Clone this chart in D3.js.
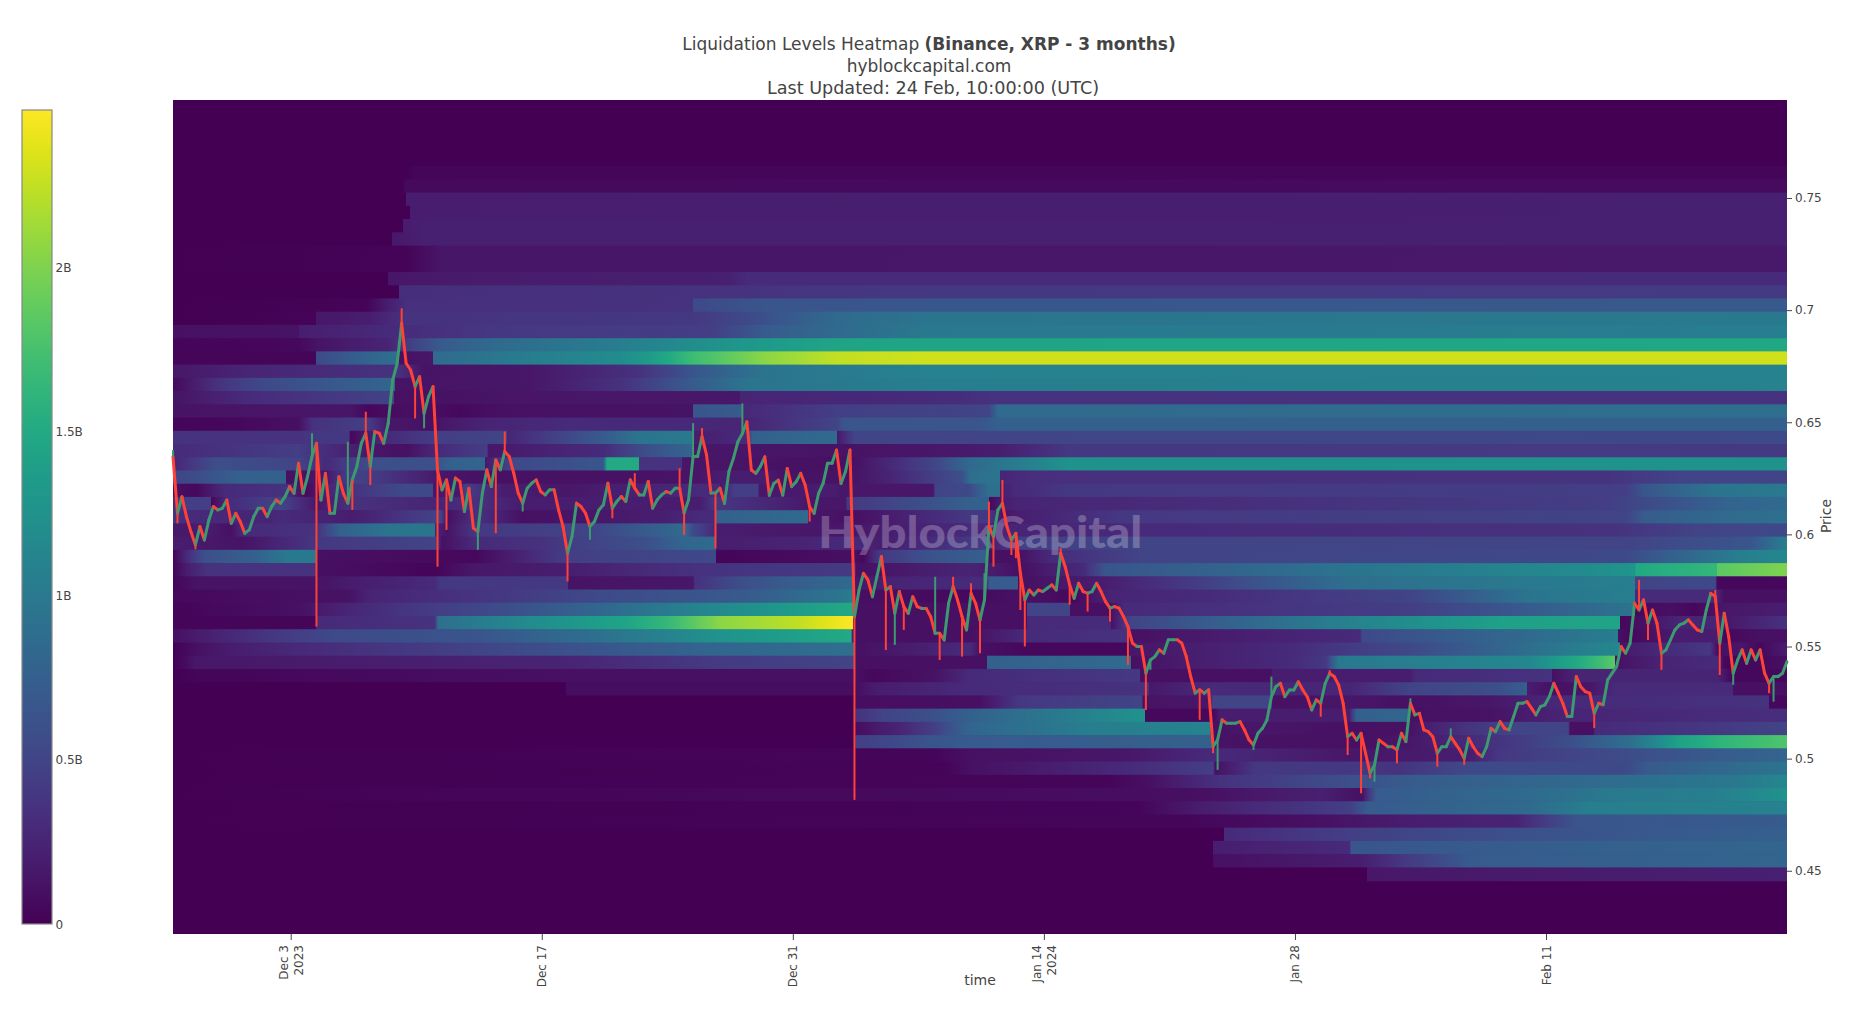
<!DOCTYPE html>
<html><head><meta charset="utf-8">
<script src="https://cdn.jsdelivr.net/npm/d3@7"></script>
<style>
html,body{margin:0;padding:0;background:#fff;overflow:hidden}
text{font-family:"DejaVu Sans",Verdana,sans-serif;fill:#444}
</style></head><body>
<svg id="chart" width="1866" height="1014"></svg>
<script>
// ---------- data ----------
const chartTitle = "Liquidation Levels Heatmap ";
const chartTitleBold = "(Binance, XRP - 3 months)";
const chartSubtitle = "hyblockcapital.com";
const chartUpdated = "Last Updated: 24 Feb, 10:00:00 (UTC)";
const watermark = "HyblockCapital";
const startTime = Date.UTC(2023,10,26,10,30);
const spanDays = 90;
const priceRange = [0.4218,0.7937];
const priceStep = 0.0059;
const priceTicks = [0.45,0.5,0.55,0.6,0.65,0.7,0.75];
const timeTicks = [Date.UTC(2023,11,3),Date.UTC(2023,11,17),Date.UTC(2023,11,31),Date.UTC(2024,0,14),Date.UTC(2024,0,28),Date.UTC(2024,1,11)];
const timeTickLabels = [["Dec 3","2023"],["Dec 17"],["Dec 31"],["Jan 14","2024"],["Jan 28"],["Feb 11"]];
const barMax = 2.48;
const barTicks = [0,0.5,1,1.5,2];
const barTickLabels = ["0","0.5B","1B","1.5B","2B"];

// liquidation level (billions) per price row, top row first: flat [day,value,day,value,...]
const levelRows = [
[0,0,90,0],[0,0,90,0],[0,0,90,0],[0,0,90,0],[0,0,90,0],
[0,0,13,0,13.5,.03,90,.03],
[0,0,12.8,0,13,.06,90,.07],
[0,0,13,0,13,.2,90,.22],
[0,0,13.2,0,13.2,.2,90,.22],
[0,0,12.8,0,12.8,.18,14,.22,90,.22],
[0,0,12.2,0,12.2,.15,14,.22,90,.22],
[0,0,13,.02,15,.14,90,.16],
[0,0,13,.02,15,.14,90,.16],
[0,0,12,0,12,.14,15,.17,31,.22,32,.3,90,.3],
[0,0,12.6,0,12.6,.32,30,.35,42,.4,90,.42],
[0,0,10.8,.02,12,.2,13,.33,29,.35,29,.55,33,.65,90,.68],
[0,0,8,.02,8,.15,11,.2,13,.35,29,.4,32,.55,37,.85,42,.95,90,1],
[0,.1,7,.12,7,.2,12,.3,18,.4,30,.45,33,.7,37,.85,42,1,90,1.05],
[0,.03,7,.05,8,.12,12,.25,13.5,.5,15,.7,18,.85,25,1.05,30,1.25,37,1.45,90,1.48],
[0,.03,8,.03,8,.55,11,.8,12.5,.9,12.6,.1,14.5,.15,14.5,.85,20,1.05,25,1.2,27,1.4,29,1.7,33,2.05,37,2.25,42,2.3,90,2.3],
[0,.15,4,.25,12.5,.35,14,.12,20,.15,26,.35,29,.65,33,.95,42,1.1,90,1.1],
[0,.05,2.5,.35,5,.55,11,.75,12.4,.8,12.4,.12,20,.15,25,.35,29,.7,32,.95,42,1.05,90,1.1],
[0,.12,4,.3,11,.45,12.3,.5,12.3,.1,23,.15,31.6,.15,31.6,.25,42,.3,46,.35,90,.35],
[0,.12,9.9,.14,10.8,.05,12.5,.08,14,.1,16,.05,18.2,.1,29,.12,29,.65,31.8,.7,31.8,.28,37,.45,45.5,.5,46,.85,90,.9],
[0,.03,3.7,.05,7,.1,7.8,.35,10.8,.45,12,.15,14.7,.1,15,.15,17.5,.25,22,.3,29,.28,32,.25,37,.5,37.4,.65,45,.65,46,.75,90,.75],
[0,.35,7,.35,8,.4,9.8,.4,9.9,.05,10.6,.15,12,.3,14.9,.45,18.6,.5,18.6,.25,24,.7,26,.95,29,1,29,.2,32,.3,32.3,.75,37,.85,37,.15,38,.5,90,.55],
[0,.3,7,.45,8,.35,11,.15,13,.1,14.8,.3,17.5,.45,17.6,.15,24,.3,26.5,.6,29,.8,29,.15,37.9,.12,42.4,.15,46,.2,50,.4,90,.42],
[0,.25,2.4,.6,7,.5,8.5,.3,11.3,.6,14.5,.6,15.4,.75,17.4,.8,17.4,.15,19,.55,24,.65,24.2,1.5,26,1.5,26,.35,28.4,.35,28.4,.15,32.5,.12,37.9,.1,42.4,.5,44.5,.85,48,1.1,50,1.25,90,1.25],
[0,.5,.9,.55,3.7,.75,6.3,.75,6.3,.1,8.5,.15,10,.5,11.5,.4,14.9,.15,17.5,.1,29,.13,30.7,.2,33,.2,34,.12,37.9,.12,40,.25,44,.6,44.5,.9,46.1,.95,46.1,.25,48,.33,80,.36,84,.5,90,.5],
[0,.1,1.3,.05,2.9,.3,6.3,.35,7.4,.05,8.5,.25,12.8,.55,14.5,.55,14.5,.15,16,.15,16.3,.45,18.4,.2,22,.15,27,.25,29.4,.3,30.5,.3,30.5,.15,31.3,.45,32.6,.45,32.7,.15,37,.2,37.2,.15,42.4,.15,42.5,.5,44.4,.55,45.5,.9,46.1,.9,46.1,.2,47,.3,50,.4,81,.45,82,.65,86,.95,90,1],
[0,.3,.8,.45,2.1,.45,2.1,.03,3,.3,6.1,.5,8,.15,10,.35,14.9,.25,16.8,.35,19.2,.2,29.4,.2,30.2,.4,35.5,.15,37.5,.15,37.6,.4,42,.6,44.45,.75,45.5,.75,45.5,.05,46.3,.2,47,.25,80,.45,82,.55,87,.8,90,.85],
[0,.35,1,.3,5.2,.25,6.1,.3,10,.2,14.9,.5,15.3,.1,16.9,.35,19.5,.1,27,.2,29.4,.3,30.3,.3,30.3,.75,35.4,.85,35.4,.15,38,.1,44.45,.4,45.5,.4,46.3,.12,47,.2,53,.4,81,.5,82,.7,86.5,.85,90,.9],
[0,.15,1.9,.2,3.2,.1,3.9,.3,8,.35,9.3,.75,12,.95,14.6,.95,14.6,.25,15.3,.12,16.9,.4,23.3,.5,28.5,.85,29,.55,30.2,.3,30.3,.2,35.5,.15,38,.15,44.45,.3,47,.25,54,.3,80,.35,85,.5,90,.55],
[0,.2,3.9,.12,7.5,.35,8,.4,14.6,.5,15,.1,16.8,.3,20.5,.35,23.3,.5,26.4,.6,28.5,.8,30.2,.85,30.3,.85,30.3,.2,35.4,.25,38,.3,39.5,.2,44.45,.4,45.5,.45,45.6,.2,47.3,.45,54,.5,81,.5,88,.65,90,1.05],
[0,.03,1.7,.6,4.6,.75,6.5,1,8,1,8,.1,16.9,.05,22.1,.45,30.1,.55,30.3,.55,30.3,.03,38,.1,38.5,.05,39.4,.4,42.6,.65,44.45,.7,45.4,.75,45.4,.1,47.2,.1,49,.3,54,.5,81,.55,87.3,1.05,90,1.15],
[0,.03,.8,.2,1.9,.35,8,.35,8,.1,14.6,.03,16.7,.15,21.9,.2,29.4,.35,38,.42,38.1,.1,44.45,.25,47.2,.1,50.8,.3,52,.65,57,.75,65.6,.95,79,1.2,81.5,1.3,81.6,1.5,86.1,1.65,86.1,1.85,90,2],
[0,.03,1.2,.12,5.6,.12,8,.12,10.4,.2,14.6,.3,14.9,.4,22,.4,22,.12,29,.15,29.1,.35,31.8,.6,37.9,.85,38,.15,40.5,.25,44.45,.3,45.4,.3,45.5,.7,47.1,.7,47.1,.1,49.3,.15,52,.2,57.3,.45,65.6,.9,75.6,1,81.5,1.05,81.5,.5,86,.55,86.1,.05,90,.05],
[0,.05,9.9,.12,11,.25,18.6,.4,23.5,.55,32,.7,37,.95,38,1.05,38,.1,44.45,.05,47.6,.12,50.2,.05,52.3,.25,57.3,.3,69,.5,75.6,.95,81.5,1.05,81.5,.3,86,.3,86.5,.1,90,.1],
[0,.03,7,.1,9.6,.25,17.6,.55,23.5,.8,30,1.15,38,1.5,38,.1,47.6,.1,47.6,.5,50,.5,50,.1,52.3,.1,53,.3,69,.45,75.6,.7,81.5,.95,81.5,.05,83.5,.1,84.8,.05,86.5,.15,90,.2],
[0,.03,8,.03,8,.3,14.6,.35,14.8,.9,20,1.2,25.3,1.45,27.5,1.65,29.4,1.9,30.5,2.05,35,2.25,37.9,2.48,37.9,.1,47.6,.1,47.6,.3,52.3,.3,52.3,.1,53.4,.5,65.6,1.1,74,1.4,80.7,1.45,80.7,.05,82,.1,84,.25,86.1,.25,86.5,.15,90,.35],
[0,.1,2.6,.25,8.9,.55,17,.65,23.5,.9,30.2,1.25,37.8,1.5,37.9,.1,44.45,.1,47.6,.3,53.2,.35,53.4,.1,56,.15,66.2,.3,66.3,.55,75.6,.85,80.6,1.05,80.6,.1,81.3,.05,84,.2,86.1,.2,86.5,.05,88.5,.1,90,.1],
[0,0,1.3,.1,3.3,.2,10.3,.35,17,.5,23.5,.65,30,.8,38,.9,38,.1,44.45,.3,45,.1,47.6,.05,53.2,.05,53.4,.15,56.7,.2,62.3,.3,69,.55,72.3,.7,79.3,1.1,80.7,1.15,80.7,.1,81.3,.2,83.2,.3,85.7,.4,86.1,.1,87.4,.15,88.5,.05,90,.2],
[0,0,1.3,.15,21.9,.25,30,.42,38,.5,38,.1,45.4,.1,45.4,.75,53.4,.85,53.4,.1,56.7,.2,62.3,.3,64.3,.4,65,1,75.6,1.15,78.3,1.5,80.4,1.85,80.4,.1,81.3,.15,83.2,.25,86.1,.3,86.5,.05,88.5,.05,90,.1],
[0,0,1.3,.03,21.9,.1,38,.1,39,.05,42.5,.12,44.4,.3,53.9,.4,53.9,.1,61.3,.1,61.3,.2,69,.2,69.3,.3,76.9,.35,76.9,.1,78.3,.25,79.2,.25,86.1,.25,86.9,.05,90,.05],
[0,0,21.9,0,21.9,.08,38,.08,39.3,.2,44.4,.3,54.4,.35,54.4,.15,58,.3,65.6,.25,69,.5,74,.6,75.5,.75,75.5,.2,77,.1,79.1,.15,80.4,.3,87,.3,87,.1,90,.1],
[0,0,38,0,38.1,.08,45,.1,47.2,.4,54,.5,54.1,.12,57.8,.15,58,.5,61.3,.5,61.3,.1,65.6,.15,69,.1,73.6,.15,77.7,.3,89,.35,89,.05,90,.05],
[0,0,38,0,38.1,.35,39.6,.5,42.4,.6,44.4,.75,51,1.1,54.2,1.25,54.2,.05,58,.05,58.4,.2,65.6,.2,66,.75,69,.8,69,.1,73.6,.12,77.5,.25,90,.32],
[0,0,38,0,38.1,.08,40.5,.25,42.4,.45,44.4,.8,51,1.05,57.8,1.1,57.9,.1,60,.15,66.3,.1,69,.12,72,.35,74.6,.5,77.8,.5,77.9,.1,79.2,.1,79.3,.3,86,.4,90,.5],
[0,0,38,0,38.1,.45,42.4,.65,44.4,.7,58,.75,58,.12,66.3,.1,69,.15,73.6,.35,74.6,.4,78,.6,81.3,.9,83.9,1.4,86.1,1.6,90,1.8],
[0,0,42.4,.03,44.4,.1,53.4,.15,58,.3,60.3,.25,65.6,.15,72.3,.2,74,.4,78,.5,82,.6,90,.8],
[0,0,43,.02,44.4,.1,53.2,.3,58,.45,58.1,.1,60.4,.4,65.6,.4,68.3,.35,72.3,.55,81,.55,82.3,.7,90,.95],
[0,0,52,.03,54.4,.1,58.4,.35,65.6,.6,69,.7,79,.85,87.3,1,90,1.15],
[0,0,53.7,.08,57.7,.1,60,.15,64,.22,66.3,.1,67.1,.7,75.6,.85,80,1,85.6,1.05,90,1.25],
[0,0,53.7,.02,57.4,.2,65.6,.45,66.6,.7,75.6,.85,79,1.05,90,1.1],
[0,0,55.7,.03,63.6,.1,69,.2,75,.25,78.3,.65,90,.7],
[0,0,58.6,0,58.6,.3,65.6,.45,74,.6,90,.75],
[0,0,58,0,58,.2,65.6,.3,65.7,.65,79,.75,90,.8],
[0,0,58,0,58,.1,66.2,.2,72.3,.7,90,.8],
[0,0,66.6,0,66.6,.15,90,.22]
];

// XRP closes, one candle every 6 hours
const candleHours = 6;
const closes = [
.6347,.6094,.6168,.6079,.6012,.5953,.6035,.5975,.6064,.6124,.6109,.6116,.6153,.6049,.6094,.6057,.6005,.6020,.6079,.6116,.6116,.6079,.6124,.6153,.6139,.6168,.6213,.6183,.6317,.6183,.6257,.6347,.6406,.6153,.6272,.6094,.6094,.6257,.6183,.6139,.6243,.6302,.6406,.6451,.6302,.6458,.6451,.6406,.6495,.6688,.6763,.6941,.6763,.6733,.6659,.6703,.6540,.6614,.6659,.6287,.6198,.6243,.6153,
.6251,.6236,.6102,.6206,.6028,.6013,.6184,.6288,.6213,.6332,.6288,.6370,.6347,.6273,.6184,.6139,.6206,.6228,.6243,.6191,.6176,.6199,.6199,.6109,.6035,.5916,.5991,.6139,.6124,.6095,.6035,.6057,.6109,.6132,.6228,.6117,.6147,.6169,.6147,.6243,.6206,.6176,.6176,.6236,.6117,.6154,.6176,.6191,.6184,.6206,.6206,.6095,.6154,.6347,.6347,.6436,.6355,.6184,.6184,.6206,
.6138,.6280,.6339,.6413,.6450,.6502,.6287,.6272,.6302,.6346,.6175,.6227,.6242,.6175,.6294,.6213,.6235,.6272,.6220,.6123,.6094,.6183,.6227,.6317,.6317,.6376,.6227,.6280,.6376,.5633,.5750,.5826,.5797,.5722,.5811,.5901,.5752,.5767,.5648,.5745,.5678,.5648,.5722,.5678,.5670,.5670,.5633,.5559,.5559,.5529,.5693,.5767,.5707,.5633,.5574,.5737,.5693,.5618,
.5708,.6035,.5990,.6109,.6139,.6035,.5975,.6005,.5827,.5708,.5752,.5730,.5752,.5745,.5760,.5775,.5752,.5916,.5856,.5775,.5715,.5782,.5745,.5738,.5745,.5782,.5745,.5700,.5671,.5678,.5671,.5634,.5589,.5515,.5500,.5500,.5381,.5440,.5455,.5485,.5470,.5530,.5530,.5530,.5515,.5455,.5366,.5292,.5307,.5292,.5307,.5054,.5084,.5173,.5158,.5158,.5158,.5165,.5128,.5084,
.5061,.5113,.5135,.5172,.5276,.5321,.5336,.5276,.5306,.5306,.5343,.5306,.5276,.5217,.5262,.5247,.5336,.5380,.5366,.5328,.5247,.5098,.5113,.5083,.5113,.5024,.4935,.4972,.5083,.5068,.5053,.5053,.5039,.5113,.5076,.5247,.5195,.5202,.5128,.5120,.5098,.5024,.5053,.5053,.5098,.5068,.5039,.5001,.5091,.5053,.5024,.5009,.5053,.5135,.5120,.5165,.5135,.5128,.5187,.5247,
.5247,.5254,.5225,.5195,.5232,.5240,.5277,.5336,.5292,.5247,.5188,.5188,.5366,.5321,.5299,.5292,.5202,.5247,.5240,.5351,.5381,.5410,.5500,.5470,.5514,.5693,.5663,.5708,.5604,.5663,.5604,.5470,.5485,.5529,.5574,.5596,.5604,.5619,.5596,.5574,.5567,.5663,.5737,.5723,.5514,.5648,.5544,.5381,.5440,.5485,.5425,.5485,.5440,.5485,.5381,.5336,.5366,.5366,.5381,.5433
];
// wick extremes that were readable: [candle, price, 1 if the candle rose]
const wicks = [
[0,.6376,1],[1,.6049,0],[5,.5933,0],[31,.6451,1],[32,.5589,0],[39,.6413,1],[40,.6109,0],[43,.6547,0],[44,.6220,0],[51,.7008,0],[54,.6517,0],[56,.6473,1],[59,.5856,0],[61,.6020,0],[68,.5931,1],[72,.6005,0],[74,.6459,0],[78,.6102,1],[88,.5790,0],[93,.5976,1],[98,.6072,0],[103,.6273,0],[113,.6295,0],[114,.5998,0],[116,.6496,1],[118,.6474,0],[121,.5938,0],[127,.6584,1],[133,.6168,1],[142,.6057,0],[152,.4816,0],[159,.5484,0],[161,.5507,1],[163,.5574,0],[170,.5811,1],[171,.5440,0],[174,.5811,0],[176,.5455,0],[178,.5782,0],[180,.5470,0],[181,.5827,1],[182,.6146,0],[183,.5856,0],[185,.6243,0],[187,.5908,0],[188,.5894,0],[189,.5663,0],[190,.5500,0],[198,.5938,0],[200,.5686,0],[204,.5656,0],[209,.5611,0],[213,.5418,0],[217,.5217,0],[218,.5396,1],[229,.5173,0],[232,.5024,0],[233,.4950,1],[241,.5039,1],[245,.5366,1],[256,.5187,0],[258,.5395,0],[262,.5016,0],[265,.4845,0],[267,.4912,0],[268,.4897,1],[273,.4979,0],[276,.5269,1],[282,.4964,0],[285,.5135,1],[288,.4972,0],[317,.5136,0],[327,.5797,0],[329,.5529,0],[332,.5396,0],[344,.5752,0],[345,.5373,0],[348,.5329,1],[356,.5292,0],[357,.5254,1]
];

// ---------- drawing ----------
const W=1866,H=1014,L=173,R=1787,T=100,B=934;
const DAY=864e5;
const svg=d3.select("#chart");
const defs=svg.append("defs");
const x=d3.scaleUtc().domain([new Date(startTime),new Date(startTime+spanDays*DAY)]).range([L,R]);
const y=d3.scaleLinear().domain(priceRange).range([B,T]);
const colour=d3.scaleSequential(d3.interpolateViridis).domain([0,barMax]);
const dayX=d=>x(new Date(startTime+d*DAY));

svg.append("rect").attr("x",L).attr("y",T).attr("width",R-L).attr("height",B-T).attr("fill",colour(0));

// heatmap rows: horizontal gradients between the read levels
const heat=svg.append("g");
levelRows.forEach((flat,r)=>{
  const pts=d3.range(0,flat.length,2).map(k=>[flat[k],flat[k+1]]);
  const id="row"+r;
  const g=defs.append("linearGradient").attr("id",id).attr("gradientUnits","userSpaceOnUse")
    .attr("x1",dayX(0)).attr("x2",dayX(spanDays)).attr("y1",0).attr("y2",0);
  pts.forEach((p,k)=>{
    if(k>0){
      const q=pts[k-1], n=Math.ceil(Math.abs(p[1]-q[1])/0.12);
      if(p[0]>q[0]) for(let j=1;j<n;j++){
        const t=j/n;
        g.append("stop").attr("offset",(q[0]+(p[0]-q[0])*t)/spanDays).attr("stop-color",colour(q[1]+(p[1]-q[1])*t));
      }
    }
    g.append("stop").attr("offset",p[0]/spanDays).attr("stop-color",colour(p[1]));
  });
  const top=priceRange[1]-r*priceStep, bot=top-priceStep;
  heat.append("rect").attr("x",L).attr("width",R-L)
    .attr("y",y(top)).attr("height",y(bot)-y(top)+0.6)
    .attr("fill",`url(#${id})`);
});

// watermark
svg.append("text").text(watermark).attr("x",dayX(35.98)).attr("y",y(.594))
  .attr("textLength",324).attr("lengthAdjust","spacingAndGlyphs")
  .style("font-family","Lato,'Open Sans',sans-serif").style("font-weight",900).style("font-size","43px")
  .style("fill","#fff").style("opacity",.24);

// candles: each one runs from the previous close to its own close
const UP="#3D9970",DOWN="#FF4136";
const candleX=i=>dayX(i*candleHours/24);
const candles=svg.append("g").attr("stroke-linecap","round");
closes.forEach((c,i)=>{
  if(!i) return;
  const o=closes[i-1];
  candles.append("line").attr("x1",candleX(i-1)).attr("x2",candleX(i))
    .attr("y1",y(o)).attr("y2",y(c))
    .attr("stroke",c>=o?UP:DOWN).attr("stroke-width",3);
});
wicks.forEach(([i,p,up])=>{
  candles.append("line").attr("x1",candleX(i)).attr("x2",candleX(i))
    .attr("y1",y(closes[i])).attr("y2",y(p))
    .attr("stroke",up?UP:DOWN).attr("stroke-width",2).attr("stroke-linecap","butt");
});

// axes
const yAxis=svg.append("g").attr("transform",`translate(${R},0)`)
  .call(d3.axisRight(y).tickValues(priceTicks).tickFormat(d=>d3.format("~g")(d)).tickSize(5).tickPadding(3));
yAxis.select(".domain").remove();
yAxis.selectAll("line").attr("stroke","#444");
yAxis.selectAll("text").style("font-size","12px");

const xAxis=svg.append("g").attr("transform",`translate(0,${B})`)
  .call(d3.axisBottom(x).tickValues(timeTicks.map(t=>new Date(t))).tickFormat("").tickSize(6));
xAxis.select(".domain").remove();
xAxis.selectAll("line").attr("stroke","#444");
xAxis.selectAll(".tick").each(function(d,i){
  const lines=timeTickLabels[i];
  const g=d3.select(this);
  g.select("text").remove();
  lines.forEach((s,k)=>{
    const off=lines.length>1?(k?7.5:-7.5):0;
    g.append("text").text(s)
      .attr("transform",`translate(${off+4},11) rotate(-90)`)
      .attr("text-anchor","end").style("font-size","12px");
  });
});

svg.append("text").text("time").attr("x",980).attr("y",985).attr("text-anchor","middle").style("font-size","14px");
svg.append("text").text("Price").attr("transform","translate(1831,516) rotate(-90)").attr("text-anchor","middle").style("font-size","14px");

// title
const tt=svg.append("text").attr("x",929).attr("y",50).attr("text-anchor","middle").style("font-size","17px");
tt.append("tspan").text(chartTitle);
tt.append("tspan").text(chartTitleBold).style("font-weight","bold");
svg.append("text").text(chartSubtitle).attr("x",929).attr("y",72).attr("text-anchor","middle").style("font-size","17px");
svg.append("text").text(chartUpdated).attr("x",933).attr("y",94).attr("text-anchor","middle").style("font-size","17.6px");

// colour bar
const cb=d3.scaleLinear().domain([0,barMax]).range([924,110]);
const bg=defs.append("linearGradient").attr("id","bar").attr("x1",0).attr("x2",0).attr("y1",1).attr("y2",0);
d3.range(0,1.0001,0.05).forEach(t=>bg.append("stop").attr("offset",t).attr("stop-color",colour(t*barMax)));
svg.append("rect").attr("x",22).attr("width",30).attr("y",cb(barMax)).attr("height",cb(0)-cb(barMax))
  .attr("fill","url(#bar)").attr("stroke","#888").attr("stroke-width",1.2);
barTicks.forEach((v,i)=>{
  svg.append("text").text(barTickLabels[i]).attr("x",55.5).attr("y",cb(v)+4.5).style("font-size","12px");
});
</script>
</body></html>
